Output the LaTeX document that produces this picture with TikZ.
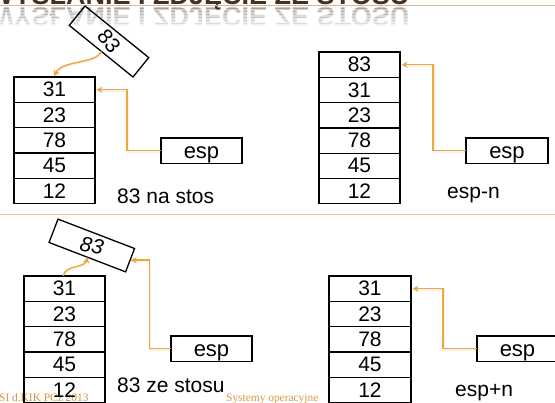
\documentclass[tikz,border=0pt]{standalone}
\usepackage{fontspec}
\setmainfont{Liberation Sans}
\newfontfamily\footfont{Liberation Serif}
\usetikzlibrary{arrows.meta}

\definecolor{titlebrown}{RGB}{68,50,36}
\definecolor{ruletan}{RGB}{216,186,142}
\definecolor{linkorange}{RGB}{240,166,56}
\definecolor{sepline}{RGB}{248,200,128}
\definecolor{footorange}{RGB}{212,150,62}

\tikzset{
  cell/.style={draw, line width=1.3pt, minimum width=81pt, minimum height=25.3pt,
    inner sep=0pt, outer sep=0pt, anchor=north west, font=\fontsize{21}{21}\selectfont},
  espbox/.style={draw, line width=1.3pt, minimum width=81pt, minimum height=25.5pt,
    inner sep=0pt, outer sep=0pt, anchor=north west, text height=16pt, text depth=1pt,
    font=\fontsize{22}{22}\selectfont},
  valbox/.style={draw, line width=1.3pt, minimum width=82pt, minimum height=25pt,
    inner sep=0pt, outer sep=0pt, font=\fontsize{21}{21}\selectfont},
  caption/.style={anchor=base west, inner sep=0pt, font=\fontsize{21}{21}\selectfont},
  conn/.style={draw=linkorange, line width=1.4pt, -{Stealth[length=6pt,width=6pt]},
    preaction={draw=black, line width=2.2pt, opacity=0.05,
      transform canvas={shift={(0.8pt,-0.8pt)}}}},
  titletext/.style={anchor=base west, inner sep=0pt, text=titlebrown,
    font=\fontsize{27}{27}\selectfont\bfseries},
  footer/.style={anchor=base west, inner sep=0pt, text=footorange,
    font=\footfont\fontsize{11.4}{11.4}\selectfont}
}

\begin{document}
\begin{tikzpicture}[x=1pt,y=-1pt]
\clip (0,0) rectangle (555,403);

% heading, cut at the top edge, with its fading mirror image
\node[titletext] (title) at (-12,4.5) {WYSŁANIE I ZDJĘCIE ZE STOSU};
\foreach \k in {0,...,7}{
  \pgfmathsetmacro\op{0.28*(1-\k/8)}
  \begin{scope}
    \clip (-5,{6+3*\k}) rectangle (560,{9+3*\k});
    \begin{scope}[yscale=-1]
      \node[titletext, transform shape, opacity=\op] (mirror\k) at (-12,-7.5)
        {WYSŁANIE I ZDJĘCIE ZE STOSU};
    \end{scope}
  \end{scope}
}
\draw[ruletan, line width=1.2pt] (0,5.3) -- (555,5.3);

% separator between the two rows of diagrams
\draw[sepline, line width=1.2pt] (0,214.7) -- (555,214.7);

% footer
\node[footer] (footl) at (-1,402) {SI d.KIK PCz 2013};
\node[footer] (footr) at (226,402) {Systemy operacyjne};

% ---- push: 83 na stos ----
\foreach \v [count=\i] in {31,23,78,45,12}
  \node[cell] (a\i) at (14,{77+(\i-1)*25.3}) {\v};
\node[espbox] (espa) at (161,138) {esp};
\node[valbox, rotate=-39] (pushval) at (109,41.5) {\rotatebox{-13}{83}};
\node[caption] (capa) at (117,203.5) {83 na stos};
\draw[conn] (espa.west) -| ([xshift=32pt]a1.east) -- ([xshift=1.5pt]a1.east);
\draw[conn] (pushval.south) .. controls (97,64) and (62,60) .. (54,76);

% ---- after push: esp-n ----
\foreach \v [count=\i] in {83,31,23,78,45,12}
  \node[cell] (b\i) at (319,{52+(\i-1)*25.3}) {\v};
\node[espbox, minimum width=82pt] (espb) at (466,138) {esp};
\node[caption] (capb) at (447,198.5) {esp-n};
\draw[conn] (espb.west) -| ([xshift=33pt]b1.east) -- ([xshift=1.5pt]b1.east);

% ---- pop: 83 ze stosu ----
\foreach \v [count=\i] in {31,23,78,45,12}
  \node[cell] (c\i) at (24,{276+(\i-1)*25.3}) {\v};
\node[espbox] (espc) at (171,336) {esp};
\node[valbox, rotate=-21] (popval) at (91.8,245.5) {\rotatebox{9}{\itshape 83}};
\node[caption] (capc) at (117,393) {83 ze stosu};
\draw[conn] (espc.west) -| ([xshift=19.5pt]popval.east) -- ([xshift=0.5pt]popval.east);
\draw[conn] ([xshift=-1pt]c1.north) .. controls (64,265) and (85,268) .. (popval.south);

% ---- after pop: esp+n ----
\foreach \v [count=\i] in {31,23,78,45,12}
  \node[cell, minimum width=82pt] (d\i) at (329,{276+(\i-1)*25.3}) {\v};
\node[espbox] (espd) at (477,336) {esp};
\node[caption] (capd) at (455,397) {esp+n};
\draw[conn] (espd.west) -| ([xshift=32pt]d1.east) -- ([xshift=1.5pt]d1.east);

\end{tikzpicture}
\end{document}
